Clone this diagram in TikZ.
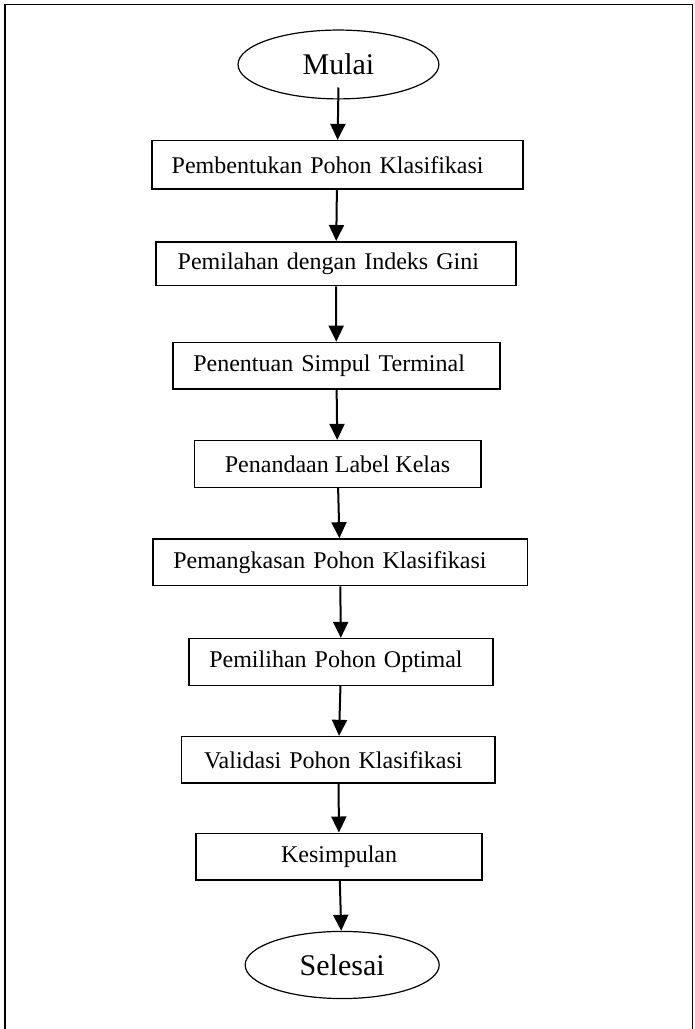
\documentclass[tikz,border=0pt]{standalone}
\usepackage{fontspec}
\setmainfont{Liberation Serif}
\usetikzlibrary{arrows.meta,shapes.geometric}

\begin{document}
\begin{tikzpicture}[
kotak/.style={draw,thick,align=center,minimum height=0.82cm,inner ysep=0pt,font=\fontsize{12}{14}\selectfont},
kiri/.style 2 args={kotak,align=left,inner xsep=#1,text width=#2},
oval/.style={draw,semithick,ellipse,inner sep=0pt,font=\fontsize{15}{18}\selectfont},
panah/.style={-{Triangle[length=8pt,width=7.5pt]},line width=1pt}]
\useasboundingbox (0,0) rectangle (12.213,-18.083);
\draw[thick] (0.088,-18.3) -- (0.088,-0.079) -- (12.169,-0.079) -- (12.169,-18.3);
\node[oval,minimum width=3.53cm,minimum height=1.21cm] (mulai) at (5.948,-1.133) {Mulai};
\node[kiri={0.351cm}{5.818cm},minimum height=0.85cm] (bentuk) at (5.926,-2.897) {Pembentukan Pohon Klasifikasi};
\node[kiri={0.381cm}{5.564cm},minimum height=0.77cm] (pilah) at (5.904,-4.634) {Pemilahan dengan Indeks Gini};
\node[kiri={0.362cm}{5.028cm}] (terminal) at (5.911,-6.428) {Penentuan Simpul Terminal};
\node[kotak,minimum width=5.033cm] (kelas) at (5.931,-8.154) {Penandaan Label Kelas};
\node[kiri={0.362cm}{5.859cm}] (pangkas) at (5.975,-9.882) {Pemangkasan Pohon Klasifikasi};
\node[kiri={0.357cm}{4.633cm}] (optimal) at (5.995,-11.633) {Pemilihan Pohon Optimal};
\node[kiri={0.392cm}{4.722cm}] (validasi) at (5.946,-13.355) {Validasi Pohon Klasifikasi};
\node[kotak,minimum width=5.031cm] (simpulan) at (5.960,-15.054) {Kesimpulan};
\node[oval,minimum width=3.41cm,minimum height=1.18cm] (selesai) at (6.013,-16.958) {Selesai};
\draw[panah] ([yshift=6pt]mulai.south) -- (bentuk);
\draw[panah] (bentuk) -- (pilah);
\draw[panah] (pilah) -- (terminal);
\draw[panah] (terminal) -- (kelas);
\draw[panah] (kelas) -- (pangkas);
\draw[panah] (pangkas) -- (optimal);
\draw[panah] (optimal) -- (validasi);
\draw[panah] (validasi) -- (simpulan);
\draw[panah] (simpulan) -- (selesai);
\end{tikzpicture}
\end{document}
